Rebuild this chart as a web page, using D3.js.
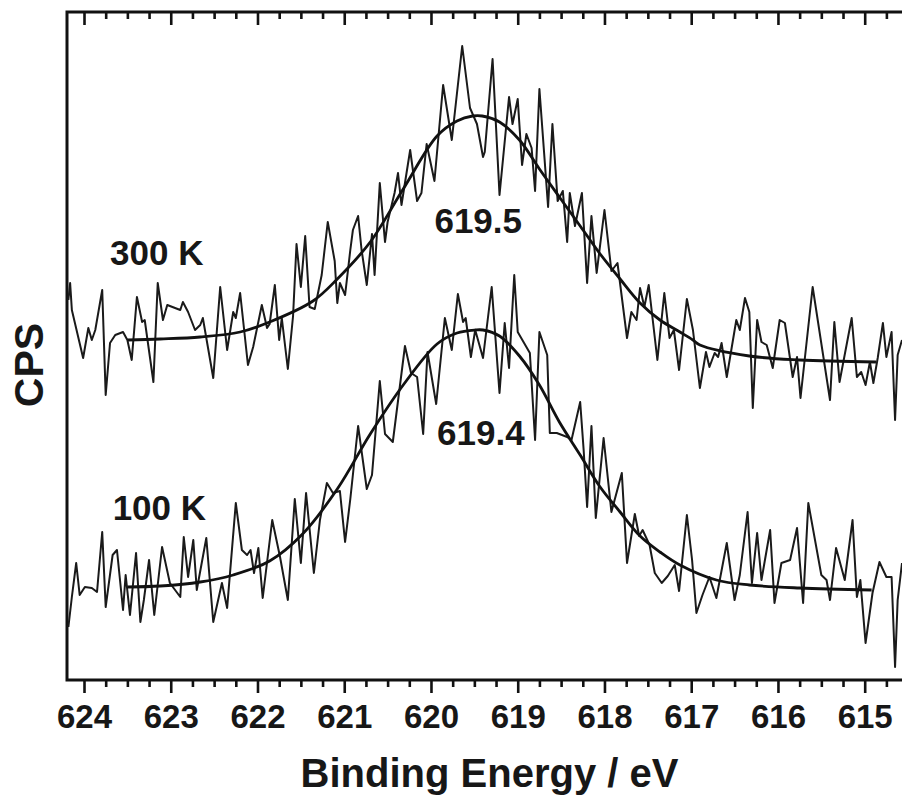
<!DOCTYPE html>
<html>
<head>
<meta charset="utf-8">
<script src="https://cdn.jsdelivr.net/npm/d3@7/dist/d3.min.js"></script>
<style>
	body{margin:0;background:#fff;}
	svg text{font-family:"Liberation Sans",Arial,sans-serif;font-weight:bold;fill:#171717;}
</style>
</head>
<body>
<svg id="chart" width="902" height="797"></svg>
<script>
// 300 K spectrum : binding energy (eV) / intensity (CPS, arbitrary units)
var be300 = [624.18,624.16,624.14,624.01,623.95,623.91,623.87,623.79,623.75,623.70,623.64,623.55,623.50,623.45,623.39,623.33,623.30,623.20,623.15,623.09,623.04,
	622.89,622.86,622.80,622.72,622.66,622.63,622.51,622.43,622.35,622.28,622.25,622.20,622.11,622.05,621.95,621.89,621.86,621.80,621.75,621.72,621.65,621.59,
	621.55,621.50,621.45,621.40,621.34,621.26,621.19,621.11,621.08,621.05,620.99,620.93,620.90,620.84,620.80,620.74,620.68,620.65,620.59,620.53,620.50,620.42,
	620.38,620.34,620.24,620.16,620.11,620.05,619.96,619.86,619.76,619.64,619.55,619.47,619.40,619.38,619.29,619.21,619.10,619.06,619.00,618.95,618.90,618.84,
	618.80,618.75,618.65,618.60,618.54,618.48,618.43,618.40,618.34,618.26,618.20,618.15,618.09,618.00,617.92,617.85,617.74,617.69,617.63,617.59,617.54,617.49,
	617.39,617.31,617.25,617.20,617.14,617.05,616.98,616.90,616.83,616.79,616.73,616.69,616.65,616.59,616.48,616.44,616.38,616.33,616.29,616.24,616.19,616.13,
	616.06,615.98,615.92,615.83,615.78,615.74,615.60,615.40,615.35,615.29,615.15,615.09,615.04,614.99,614.94,614.90,614.85,614.79,614.75,614.69,614.65,614.62,614.57];
var cps300 = [380,397,370,322,352,340,350,390,285,337,345,348,340,320,383,358,360,298,397,360,375,
	370,378,368,350,355,362,302,393,330,368,362,387,315,333,375,352,356,395,340,362,311,364,
	436,393,444,373,371,405,458,419,377,397,385,430,450,464,430,395,446,405,497,438,458,487,
	507,475,530,479,487,536,499,595,540,634,572,556,523,528,621,485,583,556,581,515,546,532,
	489,591,473,556,479,489,438,487,454,487,397,464,407,470,409,417,342,368,360,392,373,395,
	320,387,342,350,310,381,350,292,328,313,327,323,337,303,360,350,382,368,272,360,338,335,
	312,360,357,303,323,282,393,280,358,298,362,303,308,295,318,297,322,357,323,348,260,325,340];

// 100 K spectrum
var be100 = [624.18,624.14,624.09,624.05,623.99,623.91,623.85,623.79,623.75,623.67,623.62,623.55,623.52,623.47,623.40,623.35,623.31,623.25,623.19,623.10,623.01,
	622.89,622.85,622.80,622.74,622.70,622.59,622.51,622.41,622.35,622.25,622.18,622.12,622.08,622.04,621.99,621.94,621.83,621.74,621.65,621.57,621.50,621.44,
	621.35,621.28,621.20,621.13,621.05,620.99,620.93,620.84,620.74,620.68,620.59,620.53,620.44,620.30,620.23,620.16,620.09,620.04,619.94,619.84,619.76,619.69,
	619.63,619.60,619.54,619.49,619.40,619.30,619.21,619.15,619.10,619.04,619.00,618.86,618.80,618.75,618.66,618.63,618.55,618.43,618.38,618.28,618.24,618.20,
	618.15,618.10,618.01,617.92,617.80,617.74,617.65,617.60,617.56,617.48,617.42,617.34,617.27,617.19,617.14,617.05,616.99,616.94,616.87,616.79,616.71,616.59,
	616.50,616.44,616.35,616.30,616.24,616.19,616.09,616.04,615.96,615.86,615.78,615.71,615.65,615.50,615.44,615.40,615.33,615.23,615.14,615.09,615.05,614.99,
	614.91,614.83,614.75,614.69,614.65,614.62,614.57];
var cps100 = [53,83,117,85,93,92,88,148,73,125,130,70,105,65,127,58,80,120,65,133,97,
	83,143,103,140,90,142,58,97,72,177,130,125,130,107,132,82,160,123,80,181,117,187,
	107,160,197,187,189,138,181,254,191,205,299,246,238,334,307,303,246,328,276,362,330,386,
	358,362,323,350,322,393,287,357,312,405,348,327,240,348,325,247,247,243,240,278,230,173,
	254,162,242,168,207,117,166,144,150,135,107,97,104,115,89,165,120,67,85,103,82,137,
	80,105,168,97,147,100,150,77,117,120,152,77,177,105,100,80,132,100,160,83,100,37,
	87,118,103,103,13,80,117];

// fitted curves
var fitBe300 = [623.50,623.12,622.66,622.20,621.86,621.36,621.08,620.70,620.32,619.93,619.70,619.52,619.41,619.21,618.98,618.75,618.52,618.28,618.05,
	617.82,617.59,617.36,617.13,616.98,616.90,616.33,615.75,614.87];
var fitCps300 = [340,341,343,348,358,379,401,438,491,544,559,564,564,558,540,511,483,454,426,401,377,360,348,340,335,324,320,318];
var fitBe100 = [623.50,623.12,622.66,622.28,621.86,621.48,621.08,620.70,620.32,619.93,619.70,619.49,619.40,619.21,618.98,618.75,618.52,618.28,618.05,
	617.82,617.59,617.36,617.13,616.71,616.33,615.75,614.92];
var fitCps100 = [93,94,98,105,119,146,191,246,295,336,347,350,350,344,324,295,258,225,193,168,144,128,115,100,95,92,90];

var majorTicks = [624,623,622,621,620,619,618,617,616,615];
var curveLabels = [{text:"300 K",be:623.70,cps:415},{text:"100 K",be:623.67,cps:160}];
var peakLabels = [{text:"619.5",be:619.96,cps:447},{text:"619.4",be:619.93,cps:235}];

function draw(dom_id)
{
	var svg = d3.select(dom_id);
	var x = d3.scaleLinear().domain([624.196, 614.57]).range([67, 902]);
	var y = d3.scaleLinear().domain([0, 668]).range([680, 12]);
	var minorTicks = d3.range(614.75, 624.2, 0.25).filter(v => Math.abs(v - Math.round(v)) > 0.01);

	// bottom axis (ticks hang outside) and top axis (ticks hang inside)
	[680, 12].forEach(function(pos, i){
		var gMinor = svg.append("g").attr("transform", "translate(0," + pos + ")")
			.call(d3.axisBottom(x).tickValues(minorTicks).tickSize(7).tickSizeOuter(0).tickFormat(""));
		var gMajor = svg.append("g").attr("transform", "translate(0," + pos + ")")
			.call(d3.axisBottom(x).tickValues(majorTicks).tickSize(13).tickSizeOuter(0).tickFormat(d3.format("d")));
		[gMinor, gMajor].forEach(g => {
			g.select(".domain").remove();
			g.selectAll(".tick line").attr("stroke", "#111").attr("stroke-width", 2.6);
		});
		gMajor.selectAll(".tick text")
			.attr("y", 48).attr("dy", 0)
			.style("font-size", "33px")
			.style("display", i == 0 ? null : "none");
	});

	// frame: top, left, bottom
	var xr = x.range(), yr = y.range();
	svg.append("path")
		.attr("d", "M" + xr[1] + "," + yr[1] + "H" + xr[0] + "V" + yr[0] + "H" + xr[1])
		.attr("fill", "none").attr("stroke", "#111").attr("stroke-width", 3);

	var raw = d3.line().x(d => x(d[0])).y(d => y(d[1]));
	var smooth = d3.line().x(d => x(d[0])).y(d => y(d[1])).curve(d3.curveCatmullRom.alpha(0.5));

	[[be300, cps300], [be100, cps100]].forEach(function(s){
		svg.append("path")
			.datum(s[0].map((v, i) => [v, s[1][i]]))
			.attr("d", raw)
			.attr("fill", "none").attr("stroke", "#1a1a1a")
			.attr("stroke-width", 2).attr("stroke-linejoin", "round");
	});
	[[fitBe300, fitCps300], [fitBe100, fitCps100]].forEach(function(s){
		svg.append("path")
			.datum(s[0].map((v, i) => [v, s[1][i]]))
			.attr("d", smooth)
			.attr("fill", "none").attr("stroke", "#111")
			.attr("stroke-width", 2.8);
	});

	svg.selectAll(".curvelabel")
		.data(curveLabels.concat(peakLabels))
		.enter()
		.append("text")
		.attr("class", "curvelabel")
		.attr("x", d => x(d.be))
		.attr("y", d => y(d.cps))
		.style("font-size", "35px")
		.text(d => d.text);

	svg.append("text")
		.attr("x", (xr[0] + xr[1]) / 2 + 5)
		.attr("y", 787)
		.attr("text-anchor", "middle")
		.style("font-size", "40px")
		.text("Binding Energy / eV");

	svg.append("text")
		.attr("transform", "translate(43," + ((yr[0] + yr[1]) / 2 + 19) + ") rotate(-90)")
		.attr("text-anchor", "middle")
		.style("font-size", "41px")
		.text("CPS");
}

draw("#chart");
</script>
</body>
</html>
